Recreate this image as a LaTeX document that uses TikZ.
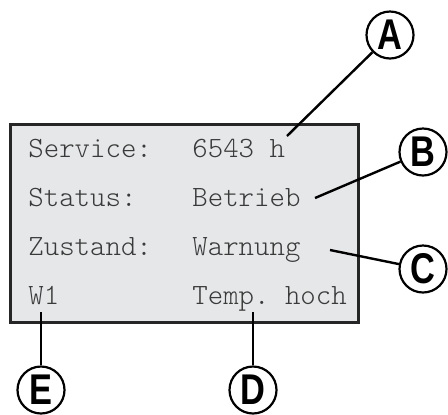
\documentclass[tikz,border=0pt]{standalone}
\usepackage{fontspec}
\setmonofont{Latin Modern Mono Light}
\newfontfamily\calloutfont{Liberation Sans}
\definecolor{panelgray}{HTML}{E6E7E9}
\definecolor{lcdtext}{HTML}{3A3A3A}
\begin{document}
\begin{tikzpicture}[x=0.5pt,y=-0.5pt,
  lcd/.style={anchor=base west,inner sep=0,text=lcdtext,font=\ttfamily\fontsize{14.7pt}{16pt}\selectfont},
  callout/.style={circle,draw=black,line width=1.1pt,fill=white,minimum size=23.5pt,inner sep=0,
    font=\calloutfont\bfseries\fontsize{21.5pt}{22pt}\selectfont},
  leader/.style={draw=black,line width=1.2pt}]
\useasboundingbox (0,0) rectangle (448,414);
% display panel
\draw[fill=panelgray,draw=black!85,line width=1.5pt] (10,124) rectangle (358,322);
% display rows
\node[lcd] (l1) at (28,157) {Service:};
\node[lcd] (r1) at (192,157) {6543 h};
\node[lcd] (l2) at (28,206) {Status:};
\node[lcd] (r2) at (192,206) {Betrieb};
\node[lcd] (l3) at (28,255) {Zustand:};
\node[lcd] (r3) at (192,255) {Warnung};
\node[lcd] (l4) at (28,304) {W1};
\node[lcd] (r4) at (192,304) {Temp. hoch};
% callout markers
\node[callout] (A) at (390,35) {\scalebox{0.8}[1]{A}};
\node[callout] (B) at (423,152) {\scalebox{0.8}[1]{B}};
\node[callout] (C) at (423,269) {\scalebox{0.8}[1]{C}};
\node[callout] (D) at (253,390) {\scalebox{0.8}[1]{D}};
\node[callout] (E) at (41,390) {\scalebox{0.8}[1]{E}};
% leader ends inside the panel
\coordinate (pA) at (287,136);
\coordinate (pB) at (315,198);
\coordinate (pC) at (330,250);
\coordinate (pD) at (253,312);
\coordinate (pE) at (41,312);
\draw[leader] (pA) -- (A);
\draw[leader] (pB) -- (B);
\draw[leader] (pC) -- (C);
\draw[leader] (pD) -- (D);
\draw[leader] (pE) -- (E);
\end{tikzpicture}
\end{document}
